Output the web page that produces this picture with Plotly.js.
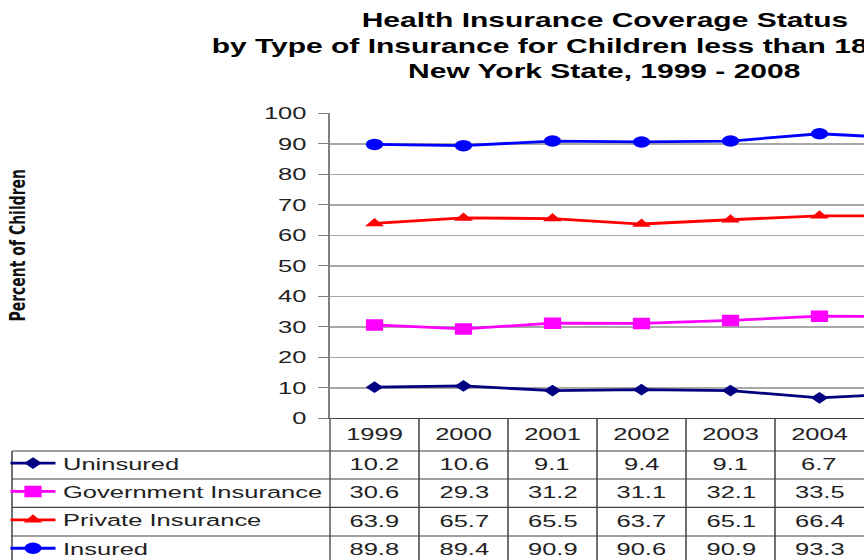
<!DOCTYPE html>
<html><head><meta charset="utf-8">
<script src="https://cdn.plot.ly/plotly-3.0.1.min.js"></script>
<style>
html,body{margin:0;padding:0;overflow:hidden;background:#fff;}
#chart{width:576px;height:560px;transform:scaleX(1.5);transform-origin:0 0;}
</style>
</head><body><div id="chart"></div>
<script>
// ---- data ----
const years = ['1999', '2000', '2001', '2002', '2003', '2004', '2005'];
const uninsured  = [10.2, 10.6, 9.1, 9.4, 9.1, 6.7, 8.2];
const government = [30.6, 29.3, 31.2, 31.1, 32.1, 33.5, 33.4];
const privateIns = [63.9, 65.7, 65.5, 63.7, 65.1, 66.4, 66.3];
const insured    = [89.8, 89.4, 90.9, 90.6, 90.9, 93.3, 91.8];
const seriesNames = ['Uninsured', 'Government Insurance', 'Private Insurance', 'Insured'];
const titleLines = ['Health Insurance Coverage Status',
                    'by Type of Insurance for Children less than 18',
                    'New York State, 1999 - 2008'];
const yTitle = 'Percent of Children';
const visibleYears = 6;

// ---- geometry (unstretched px; page is scaled 1.5x horizontally) ----
const S = 1.5, W = 576, H = 560;
const PX = v => v / S / W;          // stretched x pixel -> paper
const PY = v => 1 - v / H;          // y pixel -> paper
const d0 = PX(330), d1 = 1;
const FONT = 'Liberation Sans, Arial, sans-serif';

const values = [uninsured, government, privateIns, insured];
const colors = ['#000080', '#FF00FF', '#FF0000', '#0000FF'];
const symbols = ['diamond', 'square', 'triangle-up', 'circle'];
const sizes = [9, 11.5, 11, 11.5];
const rowCenters = [464.5, 492.5, 521, 549.5];

const traces = values.map((v, k) => ({
  type: 'scatter', mode: 'lines+markers', name: seriesNames[k],
  legendgroup: seriesNames[k],
  x: years, y: v,
  line: {color: colors[k], width: 2.8},
  marker: {symbol: symbols[k], size: sizes[k], color: colors[k]}
}));

const annotations = [];
values.forEach((v, k) => {
  for (let i = 0; i < visibleYears; i++) {
    annotations.push({xref: 'x', yref: 'paper', x: i, y: PY(rowCenters[k]),
      text: v[i].toFixed(1), showarrow: false, xanchor: 'center', yanchor: 'middle',
      font: {family: FONT, size: 17, color: '#222'}});
  }
});
annotations.push({xref: 'paper', yref: 'paper', x: PX(17.5), y: PY(245), textangle: -90,
  text: yTitle, showarrow: false, xanchor: 'center', yanchor: 'middle',
  font: {family: 'DejaVu Sans, sans-serif', size: 14, color: '#111', weight: 'bold'}});
annotations.push({xref: 'paper', yref: 'paper', x: PX(208), y: PY(46),
  text: titleLines[1], showarrow: false, xanchor: 'left', yanchor: 'middle',
  font: {family: FONT, size: 20, color: '#000', weight: 'bold'}});
annotations.push({xref: 'paper', yref: 'paper', x: PX(605), y: PY(71),
  text: titleLines[2], showarrow: false, xanchor: 'center', yanchor: 'middle',
  font: {family: FONT, size: 20, color: '#000', weight: 'bold'}});

const shapes = [];
const lineC = '#404040';
for (let i = 1; i < visibleYears; i++) {
  const xp = d0 + (d1 - d0) * i / visibleYears;
  shapes.push({type: 'line', xref: 'paper', yref: 'paper', x0: xp, x1: xp, y0: PY(418.3), y1: 0,
    line: {color: lineC, width: 1}});
}
shapes.push({type: 'line', xref: 'paper', yref: 'paper', x0: d0, x1: d0, y0: PY(418.3), y1: 0,
  line: {color: '#808080', width: 1.3}});
shapes.push({type: 'line', xref: 'paper', yref: 'paper', x0: PX(12), x1: PX(12), y0: PY(451), y1: 0,
  line: {color: lineC, width: 1}});
[451, 479, 507.3, 536].forEach(yy => shapes.push({type: 'line', xref: 'paper', yref: 'paper',
  x0: PX(12), x1: 1, y0: PY(yy), y1: PY(yy), line: {color: lineC, width: 1.2}}));

const layout = {
  width: W, height: H,
  margin: {l: 0, r: 0, t: 0, b: 0, autoexpand: false},
  paper_bgcolor: '#fff', plot_bgcolor: '#fff',
  font: {family: FONT, size: 17, color: '#222'},
  title: {text: titleLines[0], x: PX(605), xref: 'paper', xanchor: 'center',
    y: PY(20), yref: 'container', yanchor: 'middle', automargin: false,
    font: {family: FONT, size: 20, color: '#000', weight: 'bold'}},
  xaxis: {type: 'category', categoryarray: years, categoryorder: 'array',
    range: [-0.5, visibleYears - 0.5], domain: [d0, d1], automargin: false,
    showgrid: false, zeroline: false, showline: true, linecolor: lineC, linewidth: 1,
    ticks: '', tickfont: {family: FONT, size: 17, color: '#222'}, fixedrange: true},
  yaxis: {range: [0, 100], dtick: 10, domain: [PY(418.3), PY(113.3)], automargin: false,
    showgrid: true, gridcolor: '#a8a8a8', gridwidth: 1.5, zeroline: false,
    showline: true, linecolor: '#808080', linewidth: 1.3,
    ticks: 'outside', ticklen: 7, tickcolor: '#808080', tickwidth: 1.3,
    ticklabelstandoff: 4,
    tickfont: {family: FONT, size: 17, color: '#222'}, fixedrange: true},
  showlegend: true,
  legend: {x: PX(3), xanchor: 'left', y: PY(445.5), yanchor: 'top',
    bgcolor: 'rgba(0,0,0,0)', borderwidth: 0, traceorder: 'grouped', tracegroupgap: 3.3,
    font: {family: FONT, size: 17, color: '#222'}},
  annotations: annotations,
  shapes: shapes
};

Plotly.newPlot('chart', traces, layout, {displayModeBar: false, staticPlot: true});
</script>
</body></html>
